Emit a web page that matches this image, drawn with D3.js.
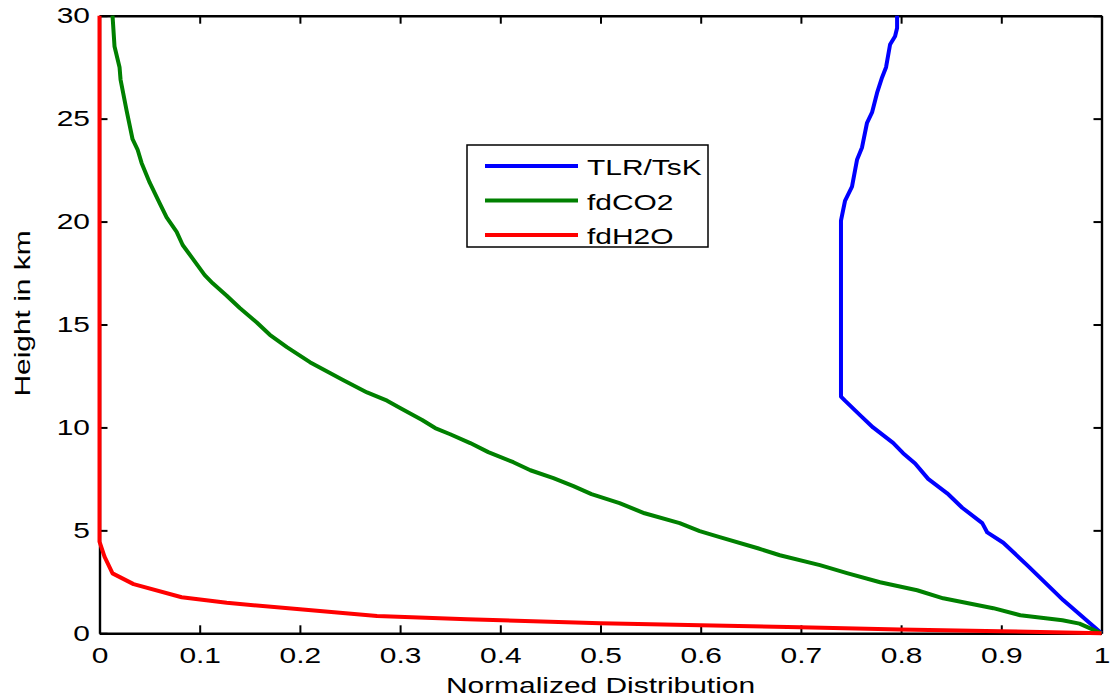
<!DOCTYPE html>
<html>
<head>
<meta charset="utf-8">
<script src="https://cdn.jsdelivr.net/npm/d3@7"></script>
<style>
  html, body { margin: 0; padding: 0; background: #fff; }
  svg { display: block; }
  text { font-family: "Liberation Sans", Arial, Helvetica, sans-serif; fill: #000; }
</style>
</head>
<body>
<svg id="chart" width="1110" height="698"></svg>
<script>
// Normalized vertical profiles versus height (km)
const tlrHeight = [0, 1.6, 3.3, 4.4, 4.9, 5.35, 6.1, 6.8, 7.5, 8.25, 8.75, 9.25, 10.0, 10.6, 11.3, 11.5,
                   20.05, 21.0, 21.7, 23.0, 23.6, 24.8, 25.3, 26.25, 27.0, 27.5, 28.6, 29.0, 29.4, 30];
const tlrValue  = [1.0, 0.962, 0.926, 0.902, 0.886, 0.881, 0.861, 0.846, 0.827, 0.814, 0.802, 0.792, 0.772, 0.759, 0.744, 0.740,
                   0.740, 0.744, 0.751, 0.756, 0.761, 0.766, 0.771, 0.776, 0.781, 0.785, 0.789, 0.794, 0.796, 0.796];

const co2Height = [0, 0.47, 0.63, 0.875, 1.22, 1.70, 2.09, 2.48, 2.92, 3.31, 3.79, 4.13, 4.67, 4.96, 5.35, 5.83,
                   6.32, 6.76, 7.15, 7.54, 7.92, 8.31, 8.8, 9.24, 9.67, 9.97, 10.36, 10.94, 11.3, 11.7, 12.3,
                   12.64, 13.17, 13.9, 14.5, 15.1, 15.8, 16.4, 17.0, 17.4, 18.2, 18.86, 19.5, 20.2, 20.9, 21.9,
                   22.85, 23.5, 24.0, 25.4, 26.9, 27.5, 28.5, 30];
const co2Value  = [1.0, 0.978, 0.961, 0.919, 0.892, 0.842, 0.816, 0.779, 0.746, 0.719, 0.679, 0.657, 0.619, 0.599, 0.579, 0.544,
                   0.519, 0.491, 0.473, 0.453, 0.430, 0.413, 0.388, 0.370, 0.350, 0.335, 0.322, 0.300, 0.287, 0.267, 0.243,
                   0.230, 0.210, 0.187, 0.170, 0.157, 0.140, 0.127, 0.113, 0.105, 0.093, 0.083, 0.077, 0.067, 0.060, 0.050,
                   0.042, 0.038, 0.033, 0.027, 0.021, 0.020, 0.015, 0.013];

const h2oHeight = [0, 0.1, 0.19, 0.29, 0.39, 0.49, 0.68, 0.84, 1.17, 1.48, 1.75, 2.39, 2.91, 3.72, 4.45, 30];
const h2oValue  = [1.0, 0.899, 0.799, 0.699, 0.6, 0.5, 0.367, 0.277, 0.200, 0.127, 0.082, 0.034, 0.013, 0.005, 0, 0];

const seriesNames  = ["TLR/TsK", "fdCO2", "fdH2O"];
const seriesColors = ["#0000ff", "#008000", "#ff0000"];

const xTickValues = [0, 0.1, 0.2, 0.3, 0.4, 0.5, 0.6, 0.7, 0.8, 0.9, 1];
const xTickLabels = ["0", "0.1", "0.2", "0.3", "0.4", "0.5", "0.6", "0.7", "0.8", "0.9", "1"];
const yTickValues = [0, 5, 10, 15, 20, 25, 30];
const yTickLabels = ["0", "5", "10", "15", "20", "25", "30"];

const xTitle = "Normalized Distribution";
const yTitle = "Height in km";

// ---- layout ----
const svg = d3.select("#chart");
const plotLeft = 99.5, plotRight = 1101.5, plotTop = 15.7, plotBottom = 633.3;
const fontSize = 22;
const sx = 1.36;          // horizontal widening of the label glyphs
const tickLen = 8;

const x = d3.scaleLinear().domain([0, 1]).range([plotLeft, plotRight]);
const y = d3.scaleLinear().domain([0, 30]).range([plotBottom, plotTop]);

function styleAxis(g) {
  g.select(".domain").attr("stroke", "#000").attr("stroke-width", 2.4);
  g.selectAll(".tick line").attr("stroke", "#000").attr("stroke-width", 2);
  g.selectAll("text").style("font-size", fontSize + "px").attr("font-family", null).attr("fill", "#000");
}

// bottom axis with labels
const gx = svg.append("g")
  .attr("transform", `translate(0,${plotBottom})`)
  .call(d3.axisBottom(x).tickValues(xTickValues)
        .tickFormat((d, i) => xTickLabels[i])
        .tickSize(-tickLen).tickSizeOuter(0).tickPadding(14));
styleAxis(gx);
gx.selectAll("text").attr("transform", `scale(${sx},1)`);

// left axis with labels
const gy = svg.append("g")
  .attr("transform", `translate(${plotLeft},0)`)
  .call(d3.axisLeft(y).tickValues(yTickValues)
        .tickFormat((d, i) => yTickLabels[i])
        .tickSize(-tickLen).tickSizeOuter(0).tickPadding(9.5));
styleAxis(gy);
gy.selectAll("text").attr("x", -9.5 / sx).attr("transform", `scale(${sx},1)`);

// top and right box edges with inward ticks
const gt = svg.append("g")
  .attr("transform", `translate(0,${plotTop})`)
  .call(d3.axisTop(x).tickValues(xTickValues).tickFormat("").tickSize(-tickLen).tickSizeOuter(0));
styleAxis(gt);
const gr = svg.append("g")
  .attr("transform", `translate(${plotRight},0)`)
  .call(d3.axisRight(y).tickValues(yTickValues).tickFormat("").tickSize(-tickLen).tickSizeOuter(0));
styleAxis(gr);

// axis titles
svg.append("text")
  .attr("transform", `translate(${(plotLeft + plotRight) / 2},693) scale(${sx},1)`)
  .attr("text-anchor", "middle")
  .style("font-size", fontSize + "px")
  .text(xTitle);

svg.append("text")
  .attr("transform", `translate(30,313.5) rotate(-90) scale(${sx},1)`)
  .attr("text-anchor", "middle")
  .style("font-size", fontSize + "px")
  .text(yTitle);

// ---- profiles ----
const line = d3.line()
  .x(d => x(d[0]))
  .y(d => y(d[1]));

const series = [
  d3.zip(tlrValue, tlrHeight),
  d3.zip(co2Value, co2Height),
  d3.zip(h2oValue, h2oHeight)
];

svg.append("g").selectAll("path")
  .data(series)
  .join("path")
  .attr("d", line)
  .attr("fill", "none")
  .attr("stroke", (d, i) => seriesColors[i])
  .attr("stroke-width", 4)
  .attr("stroke-linejoin", "round")
  .attr("stroke-linecap", "butt");

// ---- legend ----
const legend = svg.append("g");
legend.append("rect")
  .attr("x", 467).attr("y", 145)
  .attr("width", 241).attr("height", 102)
  .attr("fill", "#fff").attr("stroke", "#000").attr("stroke-width", 1.5);

const rows = legend.selectAll("g.row")
  .data(seriesNames)
  .join("g")
  .attr("class", "row")
  .attr("transform", (d, i) => `translate(0,${166 + i * 34.5})`);

rows.append("line")
  .attr("x1", 485).attr("x2", 578)
  .attr("y1", 0).attr("y2", 0)
  .attr("stroke", (d, i) => seriesColors[i])
  .attr("stroke-width", 4);

rows.append("text")
  .attr("transform", `translate(587,9) scale(${sx},1)`)
  .style("font-size", fontSize + "px")
  .text(d => d);
</script>
</body>
</html>
